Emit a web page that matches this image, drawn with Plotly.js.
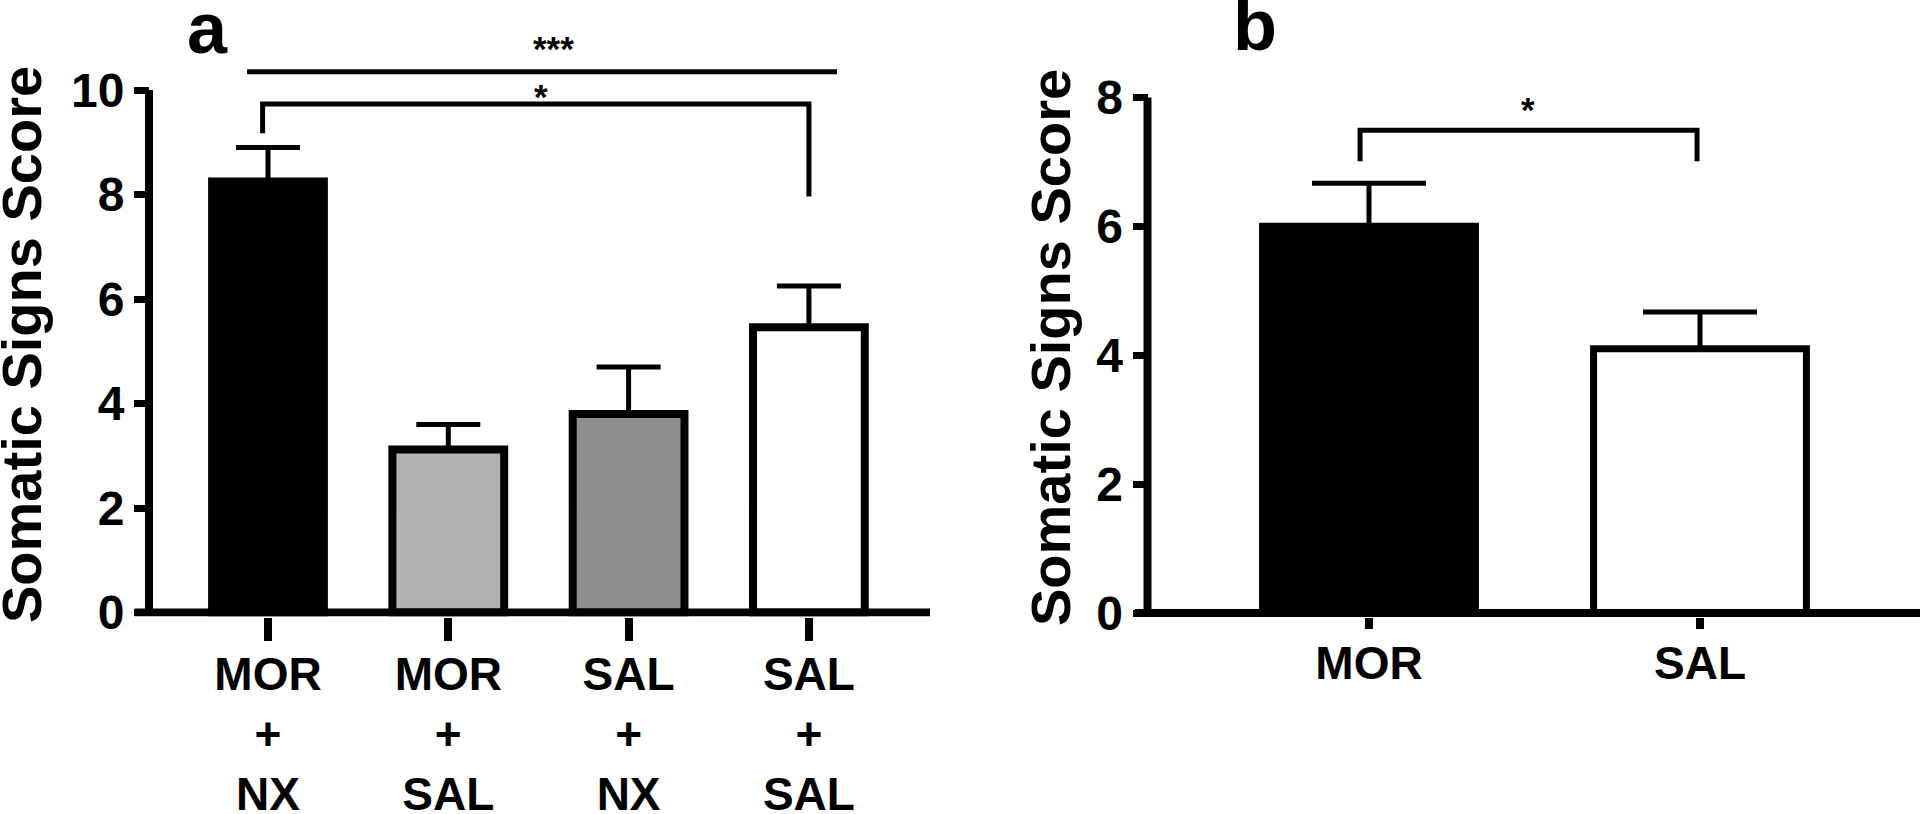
<!DOCTYPE html>
<html><head><meta charset="utf-8">
<script src="https://cdn.plot.ly/plotly-3.0.1.min.js"></script>
<style>html,body{margin:0;padding:0;background:#fff}#chart{width:1920px;height:814px}</style>
</head><body><div id="chart"></div>
<script>
// ---------- data ----------
const categoriesA = ['MOR<br>+<br>NX', 'MOR<br>+<br>SAL', 'SAL<br>+<br>NX', 'SAL<br>+<br>SAL'];
const meansA = [8.25, 3.12, 3.8, 5.46];
const semA = [0.65, 0.48, 0.9, 0.79];
const yTicksA = [0, 2, 4, 6, 8, 10];

const categoriesB = ['MOR', 'SAL'];
const meansB = [6.0, 4.1];
const semB = [0.67, 0.57];
const yTicksB = [0, 2, 4, 6, 8];

// significance brackets (x in category index, y in score units)
const sigA = [
  {from: -0.116, to: 3.156, y: 10.35, legFrom: null, legTo: null, label: '***', lx: 1.586, ly: 10.8},
  {from: -0.03, to: 3.0, y: 9.73, legFrom: 9.17, legTo: 7.96, label: '*', lx: 1.514, ly: 9.87}
];
const sigB = [
  {from: -0.027, to: 0.991, y: 7.49, legFrom: 7.01, legTo: 7.01, label: '*', lx: 0.48, ly: 7.81}
];

const yTitle = 'Somatic Signs Score';

// ---------- style ----------
const colorsA = ['#000000', '#b2b2b2', '#8f8f8f', '#ffffff'];
const colorsB = ['#000000', '#ffffff'];
const FONT = 'Liberation Sans, Arial, Helvetica, sans-serif';
const W = 1920, H = 814;

// panel geometry (pixels)
const geoA = {xLeft: 135, xRight: 930, spine: 149, cat0: 268, step: 180.3,
              zero: 612.5, unit: 52.25, top: 30, bottom: 616.5, barW: 0.62, lw: 8,
              tickLen: 23.5, capW: 32, labelShift: -6};
const geoB = {xLeft: 1135, xRight: 1920, spine: 1147.5, cat0: 1369, step: 331,
              zero: 613, unit: 64.44, top: 30, bottom: 617, barW: 0.643, lw: 7,
              tickLen: 10.5, capW: 57, labelShift: -5};

function xRange(g) { return [(g.xLeft - g.cat0) / g.step, (g.xRight - g.cat0) / g.step]; }
function yRange(g) { return [(g.zero - g.bottom) / g.unit, (g.zero - g.top) / g.unit]; }
function yDomain(g) { return [1 - g.bottom / H, 1 - g.top / H]; }

function barTrace(cats, means, sem, colors, g, xa, ya) {
  return {
    type: 'bar', x: cats, y: means, xaxis: xa, yaxis: ya,
    width: g.barW,
    marker: {color: colors, line: {color: '#000', width: g.lw}},
    error_y: {type: 'data', symmetric: false, array: sem, arrayminus: sem.map(() => 0),
              color: '#000', thickness: 5, width: g.capW},
    hoverinfo: 'skip', showlegend: false
  };
}

function xAxis(cats, g, anchor) {
  return {
    domain: [g.xLeft / W, g.xRight / W], range: xRange(g), anchor: anchor,
    type: 'category', tickmode: 'array', tickvals: cats, ticktext: cats,
    showline: false, showgrid: false, zeroline: false,
    ticks: 'outside', ticklen: g.tickLen, tickwidth: 8, tickcolor: '#000',
    ticklabelstandoff: g.labelShift,
    tickfont: {family: FONT, size: 46, color: '#000', weight: 'bold'},
    fixedrange: true
  };
}
function yAxis(ticks, g) {
  return {
    domain: yDomain(g), range: yRange(g), anchor: 'free', position: g.spine / W,
    tickmode: 'array', tickvals: ticks, ticktext: ticks.map(String),
    showline: false, showgrid: false, zeroline: false,
    ticks: 'outside', ticklen: 15, tickwidth: 7, tickcolor: '#000',
    tickfont: {family: FONT, size: 48, color: '#000', weight: 'bold'},
    fixedrange: true
  };
}

const shapes = [];
const annotations = [];
function spines(g, ticks, xa, ya) {
  shapes.push({type: 'line', xref: 'paper', yref: ya, x0: g.xLeft / W, x1: g.xRight / W, y0: 0, y1: 0,
               line: {color: '#000', width: 8}});
  shapes.push({type: 'line', xref: 'paper', yref: ya, x0: g.spine / W, x1: g.spine / W,
               y0: 0, y1: ticks[ticks.length - 1], line: {color: '#000', width: 8}});
}
function brackets(sig, xa, ya) {
  sig.forEach(s => {
    let path;
    if (s.legFrom === null) {
      path = `M${s.from},${s.y} L${s.to},${s.y}`;
    } else {
      path = `M${s.from},${s.legFrom} L${s.from},${s.y} L${s.to},${s.y} L${s.to},${s.legTo}`;
    }
    shapes.push({type: 'path', xref: xa, yref: ya, path: path, line: {color: '#000', width: 5}});
    annotations.push({xref: xa, yref: ya, x: s.lx, y: s.ly, text: s.label, showarrow: false,
                      xanchor: 'center', yanchor: 'middle',
                      font: {family: FONT, size: 35, color: '#000', weight: 'bold'}});
  });
}

spines(geoA, yTicksA, 'x', 'y');
spines(geoB, yTicksB, 'x2', 'y2');
brackets(sigA, 'x', 'y');
brackets(sigB, 'x2', 'y2');

// axis titles and panel letters
[[21, 345], [1050, 348]].forEach(p => annotations.push({
  xref: 'paper', yref: 'paper', x: p[0] / W, y: 1 - p[1] / H, text: yTitle, textangle: -90,
  showarrow: false, xanchor: 'center', yanchor: 'middle',
  font: {family: FONT, size: 56, color: '#000', weight: 'bold'}
}));
[['a', 207, 28], ['b', 1255, 25]].forEach(p => annotations.push({
  xref: 'paper', yref: 'paper', x: p[1] / W, y: 1 - p[2] / H, text: p[0],
  showarrow: false, xanchor: 'center', yanchor: 'middle',
  font: {family: FONT, size: 72, color: '#000', weight: 'bold'}
}));

const data = [
  barTrace(categoriesA, meansA, semA, colorsA, geoA, 'x', 'y'),
  barTrace(categoriesB, meansB, semB, colorsB, geoB, 'x2', 'y2')
];

const layout = {
  width: W, height: H, margin: {l: 0, r: 0, t: 0, b: 0},
  paper_bgcolor: '#fff', plot_bgcolor: 'rgba(0,0,0,0)',
  xaxis: xAxis(categoriesA, geoA, 'y'),
  yaxis: yAxis(yTicksA, geoA),
  xaxis2: xAxis(categoriesB, geoB, 'y2'),
  yaxis2: yAxis(yTicksB, geoB),
  shapes: shapes, annotations: annotations,
  bargap: 0, showlegend: false
};

Plotly.newPlot('chart', data, layout, {displayModeBar: false, staticPlot: true});
</script>
</body></html>
